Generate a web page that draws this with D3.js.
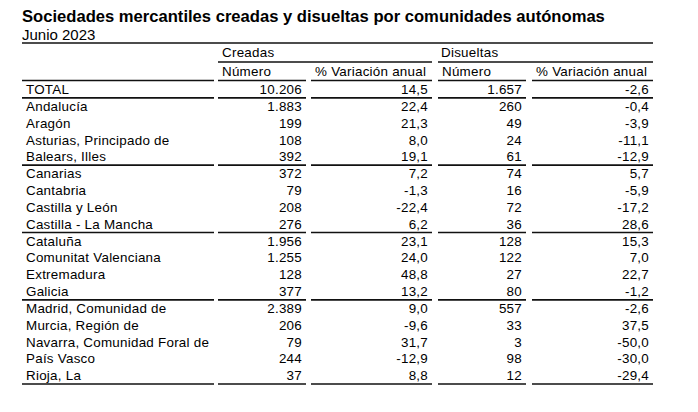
<!DOCTYPE html>
<html><head><meta charset="utf-8">
<script src="https://cdn.jsdelivr.net/npm/d3@7"></script>
<style>body{margin:0;background:#fff}svg{display:block}</style>
</head><body>
<script>
const title = "Sociedades mercantiles creadas y disueltas por comunidades autónomas";
const subtitle = "Junio 2023";
const groupHeaders = ["Creadas", "Disueltas"];
const colHeaders = ["Número", "% Variación anual", "Número", "% Variación anual"];
const regions = ["TOTAL","Andalucía","Aragón","Asturias, Principado de","Balears, Illes","Canarias","Cantabria","Castilla y León","Castilla - La Mancha","Cataluña","Comunitat Valenciana","Extremadura","Galicia","Madrid, Comunidad de","Murcia, Región de","Navarra, Comunidad Foral de","País Vasco","Rioja, La"];
const creadasNum = [10206,1883,199,108,392,372,79,208,276,1956,1255,128,377,2389,206,79,244,37];
const creadasVar = [14.5,22.4,21.3,8.0,19.1,7.2,-1.3,-22.4,6.2,23.1,24.0,48.8,13.2,9.0,-9.6,31.7,-12.9,8.8];
const disueltasNum = [1657,260,49,24,61,74,16,72,36,128,122,27,80,557,33,3,98,12];
const disueltasVar = [-2.6,-0.4,-3.9,-11.1,-12.9,5.7,-5.9,-17.2,28.6,15.3,7.0,22.7,-1.2,-2.6,37.5,-50.0,-30.0,-29.4];
const groupEnds = ["TOTAL","Balears, Illes","Castilla - La Mancha","Galicia","Rioja, La"];

const W = 698, H = 412;
const loc = d3.formatLocale({decimal: ",", thousands: ".", grouping: [3], currency: ["", "€"], minus: "-"});
const fInt = loc.format(",d"), fDec = loc.format(",.1f");

const svg = d3.select("body").append("svg").attr("width", W).attr("height", H)
  .style("font-family", "'Liberation Sans', Arial, sans-serif");

// column layout
const cols = [[22,214],[218,306],[311,432],[438,526],[532,653]];
const y = d3.scaleBand().domain(regions).range([81, 384]).paddingInner(0).paddingOuter(0);

svg.append("text").attr("x", 22).attr("y", 22).attr("font-size", 16.6).attr("font-weight", "bold").attr("fill", "#000").text(title);
svg.append("text").attr("x", 22).attr("y", 40).attr("font-size", 15).attr("fill", "#000").text(subtitle);

const lineW = 1.7;
function hline(x1, x2, yy) {
  svg.append("line").attr("x1", x1).attr("x2", x2).attr("y1", yy).attr("y2", yy)
    .attr("stroke", "#111").attr("stroke-width", lineW);
}
hline(cols[0][0], cols[4][1], 43);
hline(cols[1][0], cols[2][1], 62);
hline(cols[3][0], cols[4][1], 62);
const fs = 13.4, ls = 0.25;
function txt(x, yy, t, anchor) {
  return svg.append("text").attr("x", x).attr("y", yy).attr("font-size", fs)
    .attr("letter-spacing", ls).attr("text-anchor", anchor || "start").attr("fill", "#000").text(t);
}
txt(cols[1][0] + 4, 57, groupHeaders[0]);
txt(cols[3][0] + 3, 57, groupHeaders[1]);
colHeaders.forEach((h, i) => txt(cols[i + 1][0] + 4, 76, h));
cols.forEach(c => hline(c[0], c[1], 80.5));

groupEnds.forEach(r => {
  const yy = y(r) + y.bandwidth();
  cols.forEach(c => hline(c[0], c[1], yy));
});

const rows = regions.map((r, i) => ({r, v: [fInt(creadasNum[i]), fDec(creadasVar[i]), fInt(disueltasNum[i]), fDec(disueltasVar[i])]}));
rows.forEach(d => {
  const by = y(d.r) + 13;
  txt(26, by, d.r);
  d.v.forEach((t, j) => txt(cols[j + 1][1] - 4, by, t, "end"));
});
</script>
</body></html>
